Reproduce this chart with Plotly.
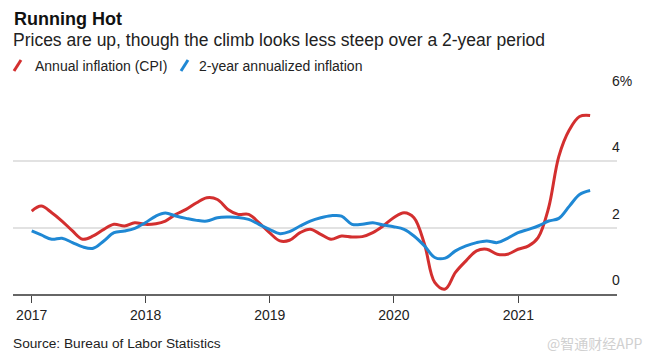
import plotly.graph_objects as go
import pandas as pd

# ---- data ----
months = pd.date_range("2017-01-31", "2021-07-31", freq="ME")

cpi_annual = [
    2.50, 2.65, 2.45, 2.20, 1.90, 1.65, 1.75, 1.95, 2.10, 2.05, 2.15, 2.10,   # 2017
    2.12, 2.20, 2.40, 2.55, 2.75, 2.90, 2.85, 2.55, 2.40, 2.40, 2.15, 1.85,   # 2018
    1.60, 1.62, 1.85, 1.95, 1.80, 1.65, 1.75, 1.72, 1.73, 1.85, 2.05, 2.30,   # 2019
    2.45, 2.30, 1.50, 0.35, 0.15, 0.65, 1.00, 1.30, 1.35, 1.20, 1.20, 1.35,   # 2020
    1.45, 1.70, 2.60, 4.15, 4.95, 5.35, 5.38,                                 # 2021
]
two_year = [
    1.90, 1.78, 1.65, 1.68, 1.55, 1.42, 1.38, 1.60, 1.85, 1.90, 1.98, 2.15,   # 2017
    2.35, 2.44, 2.35, 2.28, 2.22, 2.20, 2.30, 2.32, 2.31, 2.25, 2.10, 1.95,   # 2018
    1.82, 1.88, 2.05, 2.20, 2.30, 2.36, 2.35, 2.10, 2.10, 2.15, 2.08, 2.03,   # 2019
    1.95, 1.75, 1.45, 1.10, 1.08, 1.30, 1.45, 1.55, 1.60, 1.55, 1.68, 1.85,   # 2020
    1.95, 2.05, 2.20, 2.28, 2.65, 3.00, 3.12,                                 # 2021
]

series_names = ["Annual inflation (CPI)", "2-year annualized inflation"]
series_colors = ["#d32f2f", "#1f88d4"]

x_tickvals = ["2017-01-31", "2018-01-01", "2019-01-01", "2020-01-01", "2021-01-01"]
x_ticktext = ["2017", "2018", "2019", "2020", "2021"]
y_tickvals = [0, 2, 4, 6]
y_ticktext = ["0", "2", "4", "6%"]

title = "Running Hot"
subtitle = "Prices are up, though the climb looks less steep over a 2-year period"
source = "Source: Bureau of Labor Statistics"
watermark = "@智通财经APP"

FONT = "Liberation Sans, Arial, sans-serif"

# ---- layout geometry (pixels) ----
W, H = 650, 359
L, R, T, B = 13, 617, 95, 294


def px(x):
    return (x - L) / (R - L)


def py(y):
    return (B - y) / (B - T)


fig = go.Figure()
for name, vals, col in zip(series_names, [cpi_annual, two_year], series_colors):
    fig.add_trace(go.Scatter(
        x=months, y=vals, name=name, mode="lines",
        line=dict(color=col, width=3, shape="spline", smoothing=1.0),
        hoverinfo="skip",
    ))

annotations = [
    dict(text=f"<b>{title}</b>", x=px(12), y=py(19), xref="paper", yref="paper",
         xanchor="left", yanchor="middle", showarrow=False,
         font=dict(family=FONT, size=18, color="#111111")),
    dict(text=subtitle, x=px(11), y=py(40), xref="paper", yref="paper",
         xanchor="left", yanchor="middle", showarrow=False,
         font=dict(family=FONT, size=17.5, color="#222222")),
    dict(text=source, x=px(11), y=py(343), xref="paper", yref="paper",
         xanchor="left", yanchor="middle", showarrow=False,
         font=dict(family=FONT, size=13.7, color="#222222")),
    dict(text=watermark, x=px(645), y=py(343), xref="paper", yref="paper",
         xanchor="right", yanchor="middle", showarrow=False,
         font=dict(family="Noto Sans CJK SC, sans-serif", size=14, color="#d0d0d0")),
]

# custom legend: colored slashes + labels
legend_text_x = [33, 197]
legend_slash_x = [14, 181]
shapes = []
for name, col, tx, sx in zip(series_names, series_colors, legend_text_x, legend_slash_x):
    annotations.append(dict(text=name, x=px(tx), y=py(65.5), xref="paper", yref="paper",
                            xanchor="left", yanchor="middle", showarrow=False,
                            font=dict(family=FONT, size=14, color="#222222")))
    shapes.append(dict(type="line", xref="paper", yref="paper",
                       x0=px(sx), y0=py(71), x1=px(sx + 7), y1=py(60),
                       line=dict(color=col, width=3)))

fig.update_layout(
    width=W, height=H,
    margin=dict(l=L, r=W - R, t=T, b=H - B, pad=0, autoexpand=False),
    paper_bgcolor="white", plot_bgcolor="white",
    showlegend=False,
    font=dict(family=FONT, size=14, color="#222222"),
    annotations=annotations,
    shapes=shapes,
    xaxis=dict(
        range=["2016-12-07", "2021-10-18"],
        tickvals=x_tickvals, ticktext=x_ticktext,
        showgrid=False, zeroline=False,
        showline=True, linecolor="#666666", linewidth=1.5,
        ticks="outside", ticklen=7, tickwidth=1.2, tickcolor="#444444",
        tickfont=dict(family=FONT, size=14, color="#222222"),
        automargin=False, fixedrange=True,
    ),
    yaxis=dict(
        range=[0, 6], side="right",
        tickvals=y_tickvals, ticktext=y_ticktext,
        showgrid=True, gridcolor="#e2e2e2", gridwidth=1.5,
        zeroline=False, showline=False, ticks="",
        ticklabelposition="outside top", ticklabelstandoff=-6, ticklabelshift=-4,
        tickfont=dict(family=FONT, size=14, color="#222222"),
        automargin=False, fixedrange=True,
    ),
)

fig.write_html(
    "out.html",
    config={"displayModeBar": False},
    post_script="document.body.style.margin='0';document.body.style.overflow='hidden';",
)
